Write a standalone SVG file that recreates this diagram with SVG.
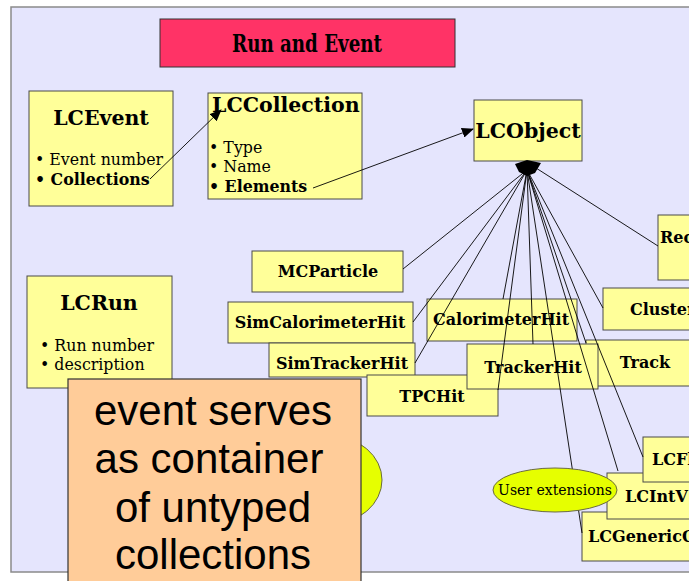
<svg xmlns="http://www.w3.org/2000/svg" width="689" height="581" viewBox="0 0 689 581">
  <style>
    .frame { fill: #E5E5FD; stroke: #8a8a8a; stroke-width: 1.5; }
    .box { fill: #FFFF99; stroke: #4a4a4a; stroke-width: 1; }
    .lbl { font-family: "DejaVu Serif", serif; font-weight: bold; font-size: 16px; fill: #000; }
    .big { font-family: "DejaVu Serif", serif; font-weight: bold; font-size: 20.5px; fill: #000; }
    .item { font-family: "DejaVu Serif", serif; font-size: 15.8px; fill: #000; }
    .itemb { font-family: "DejaVu Serif", serif; font-size: 15.8px; font-weight: bold; fill: #000; }
    .link { fill: none; stroke: #000; stroke-width: 0.9; }
    .ell { fill: #E6FF00; stroke: #6a6a40; stroke-width: 1; }
  </style>
  <defs>
    <marker id="arrow" viewBox="0 0 12 10" refX="11" refY="5" markerWidth="12" markerHeight="10" markerUnits="userSpaceOnUse" orient="auto">
      <path d="M0,0 L12,5 L0,10 Z" fill="#000"/>
    </marker>
  </defs>

  <!-- page background -->
  <rect x="0" y="0" width="689" height="581" fill="#FFFFFF"/>
  <rect class="frame" x="11" y="7" width="690" height="565"/>

  <!-- title banner -->
  <g id="title">
    <rect x="160" y="19" width="295" height="48" fill="#FF3366" stroke="#333" stroke-width="1"/>
    <text x="232" y="52" font-family="DejaVu Serif, serif" font-stretch="condensed" font-weight="bold" font-size="23.5" textLength="150" lengthAdjust="spacingAndGlyphs">Run and Event</text>
  </g>

  <!-- run / event / collection classes -->
  <g id="lcevent">
    <rect class="box" x="29" y="91" width="144" height="115"/>
    <text class="big" x="101" y="125" text-anchor="middle">LCEvent</text>
    <text class="item" x="35" y="165">• Event number</text>
    <text class="itemb" x="35" y="185">• Collections</text>
  </g>
  <g id="lccollection">
    <rect class="box" x="208" y="93" width="154" height="106"/>
    <text class="big" x="212" y="112">LCCollection</text>
    <text class="item" x="209" y="153">• Type</text>
    <text class="item" x="209" y="172">• Name</text>
    <text class="itemb" x="209" y="192">• Elements</text>
  </g>
  <g id="lcobject">
    <rect class="box" x="474" y="100" width="108" height="61"/>
    <text class="big" x="528" y="138" text-anchor="middle">LCObject</text>
  </g>
  <g id="lcrun">
    <rect class="box" x="27" y="276" width="145" height="112"/>
    <text class="big" x="99" y="310" text-anchor="middle">LCRun</text>
    <text class="item" x="40" y="351">• Run number</text>
    <text class="item" x="40" y="370">• description</text>
  </g>

  <!-- concrete data classes -->
  <g id="rec">
    <rect class="box" x="658" y="215" width="40" height="65"/>
    <text class="lbl" x="660" y="243">Rec</text>
  </g>
  <g id="mcparticle">
    <rect class="box" x="252" y="251" width="151" height="41"/>
    <text class="lbl" x="328" y="277" text-anchor="middle">MCParticle</text>
  </g>
  <g id="simcalorimeterhit">
    <rect class="box" x="228" y="302" width="185" height="41"/>
    <text class="lbl" x="320" y="328" text-anchor="middle">SimCalorimeterHit</text>
  </g>
  <g id="simtrackerhit">
    <rect class="box" x="269" y="343" width="146" height="34"/>
    <text class="lbl" x="342" y="369" text-anchor="middle">SimTrackerHit</text>
  </g>
  <g id="tpchit">
    <rect class="box" x="367" y="375" width="131" height="41"/>
    <text class="lbl" x="432" y="402" text-anchor="middle">TPCHit</text>
  </g>
  <g id="calorimeterhit">
    <rect class="box" x="427" y="299" width="150" height="42"/>
    <text class="lbl" x="501" y="325" text-anchor="middle">CalorimeterHit</text>
  </g>
  <g id="cluster">
    <rect class="box" x="603" y="288" width="95" height="42"/>
    <text class="lbl" x="630" y="315">Cluster</text>
  </g>
  <g id="track">
    <rect class="box" x="586" y="340" width="112" height="46"/>
    <text class="lbl" x="645" y="368" text-anchor="middle">Track</text>
  </g>
  <g id="trackerhit">
    <rect class="box" x="467" y="344" width="131" height="45"/>
    <text class="lbl" x="533" y="373" text-anchor="middle">TrackerHit</text>
  </g>
  <g id="lcgenericobject">
    <rect class="box" x="582" y="512" width="116" height="49"/>
    <text class="lbl" x="588" y="542">LCGenericO</text>
  </g>
  <g id="lcintvec">
    <rect class="box" x="607" y="473" width="91" height="46"/>
    <text class="lbl" x="625" y="502">LCIntV</text>
  </g>
  <g id="lcfloatvec">
    <rect class="box" x="643" y="437" width="55" height="45"/>
    <text class="lbl" x="652" y="465">LCFl</text>
  </g>

  <!-- connectors -->
  <g id="connectors">
    <line class="link" x1="150" y1="179" x2="221" y2="110" marker-end="url(#arrow)"/>
    <line class="link" x1="313" y1="188" x2="473" y2="129" marker-end="url(#arrow)"/>
    <line class="link" x1="527" y1="170" x2="403" y2="269"/>
    <line class="link" x1="527" y1="170" x2="413" y2="322"/>
    <line class="link" x1="527" y1="170" x2="415" y2="363"/>
    <line class="link" x1="527" y1="170" x2="498" y2="390"/>
    <line class="link" x1="527" y1="170" x2="503" y2="299"/>
    <line class="link" x1="527" y1="170" x2="533" y2="344"/>
    <line class="link" x1="527" y1="170" x2="582" y2="533"/>
    <line class="link" x1="527" y1="170" x2="618" y2="471"/>
    <line class="link" x1="527" y1="170" x2="586" y2="343"/>
    <line class="link" x1="527" y1="170" x2="643" y2="457"/>
    <line class="link" x1="527" y1="170" x2="603" y2="308"/>
    <line class="link" x1="536" y1="168" x2="658" y2="246"/>
    <!-- merged arrowheads under LCObject -->
    <path d="M515,164 L527,160 L541,163 L535,173 L527,176 L519,172 Z" fill="#000"/>
  </g>

  <!-- extension bubbles -->
  <g id="user-extensions">
    <ellipse class="ell" cx="555" cy="490" rx="62" ry="22"/>
    <text x="555" y="495" text-anchor="middle" font-family="DejaVu Serif, serif" font-size="14">User extensions</text>
  </g>
  <g id="hidden-bubble">
    <ellipse class="ell" cx="330" cy="480" rx="52" ry="44"/>
  </g>

  <!-- annotation note -->
  <g id="note">
    <rect x="68" y="379" width="293" height="215" fill="#FFCC99" stroke="#333" stroke-width="1.2"/>
    <g font-family="Liberation Sans, Arial, sans-serif" font-size="42" text-anchor="middle" fill="#000">
      <text x="213" y="425">event serves</text>
      <text x="209" y="473">as container</text>
      <text x="213" y="522">of untyped</text>
      <text x="213" y="569">collections</text>
    </g>
  </g>
</svg>
